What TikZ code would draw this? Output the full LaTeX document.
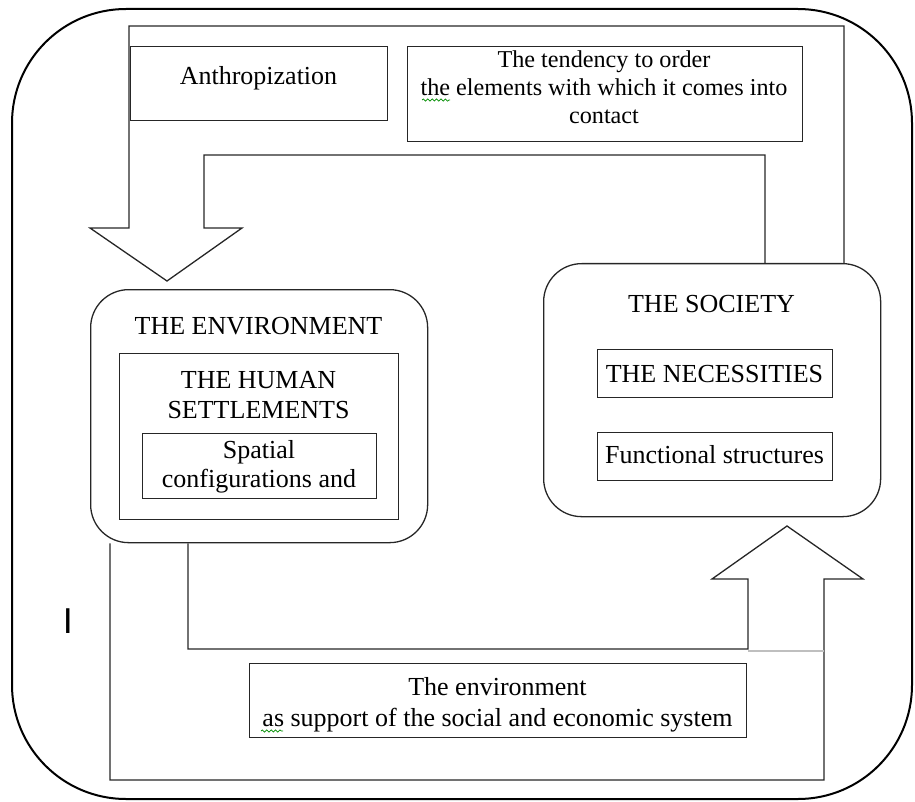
\documentclass[tikz,border=0pt]{standalone}
\usepackage{fontspec}
\setmainfont{Liberation Serif}
\newfontfamily\letterfont{Liberation Sans}
\usetikzlibrary{decorations.pathmorphing}

\begin{document}
\begin{tikzpicture}[x=0.5pt,y=-0.5pt,
  frame/.style={draw, line width=1pt, rounded corners=57pt},
  box/.style={draw=black!85, line width=0.65pt, inner sep=0pt, anchor=north west},
  panel/.style={box, rounded corners=19pt},
  flow/.style={draw=black!85, line width=0.65pt, line join=miter},
  % base of a multi-line label is the baseline of its last line
  label/.style={inner sep=0pt, anchor=base, align=center, font=\fontsize{13}{14.5}\selectfont},
  squiggle/.style={draw=green!55!black, line width=0.35pt, decorate,
    decoration={snake, amplitude=0.55pt, segment length=2.2pt}}
]
\useasboundingbox (0,0) rectangle (915,802);

% outer frame
\draw[frame] (12,9) rectangle (912,799);

% boxes
\node[box, minimum width=128.5pt, minimum height=37pt] (anth) at (130,46) {};
\node[box, minimum width=197.5pt, minimum height=47.5pt] (tend) at (407,46) {};
\node[panel, minimum width=168.5pt, minimum height=126.5pt] (env) at (90,289) {};
\node[box, minimum width=139.5pt, minimum height=83pt] (hum) at (119,353) {};
\node[box, minimum width=117pt, minimum height=32.5pt] (spat) at (142,433) {};
\node[panel, minimum width=168.5pt, minimum height=126.5pt] (soc) at (543,263) {};
\node[box, minimum width=117.5pt, minimum height=24pt] (nec) at (597,349) {};
\node[box, minimum width=117.5pt, minimum height=24pt] (func) at (597,432) {};
\node[box, minimum width=248.5pt, minimum height=37pt] (supp) at (249,663) {};

% texts
\node[label] (tAnth) at (258.5,85) {Anthropization};
\node[label, font=\fontsize{12.1}{14}\selectfont] (tTend) at (604,124)
  {The tendency to order\\the elements with which it comes into\\contact};
\node[label] (tEnv) at (258.5,334) {THE ENVIRONMENT};
\node[label, font=\fontsize{13}{15}\selectfont] (tHum) at (258.5,418) {THE HUMAN\\SETTLEMENTS};
\node[label] (tSpat) at (259,487) {Spatial\\configurations and};
\node[label] (tSoc) at (711.5,313) {THE SOCIETY};
\node[label] (tNec) at (714.5,382) {THE NECESSITIES};
\node[label] (tFunc) at (714.5,463) {Functional structures};
\node[label, font=\fontsize{13}{15.5}\selectfont] (tSupp) at (497.5,726)
  {The environment\\as support of the social and economic system};
\node[inner sep=0pt, font=\letterfont\fontsize{18}{18}\selectfont] (tI) at (68,621) {I};

% spelling marks
\draw[squiggle] (422,100) -- (450,100);
\draw[squiggle] (261,731) -- (283,731);

% block arrow from the society down into the environment
\coordinate (dIn) at (765,0 |- soc.north);
\coordinate (dOut) at (844,0 |- soc.north);
\draw[flow] (dIn) -- (765,155) -- (204,155) -- (204,228) -- (242,228)
  -- (167,281) -- (90,228) -- (129,228) -- (129,26) -- (844,26) -- (dOut);

% block arrow from the environment up into the society
\coordinate (uIn) at (188,0 |- env.south);
\coordinate (uOut) at (110,0 |- env.south);
\draw[flow] (uIn) -- (188,649) -- (748,649) -- (748,579) -- (712,579)
  -- (787,526) -- (863,579) -- (824,579) -- (824,780) -- (110,780) -- (uOut);
\draw[black!25, line width=0.6pt] (748,651) -- (824,651);
\end{tikzpicture}
\end{document}
